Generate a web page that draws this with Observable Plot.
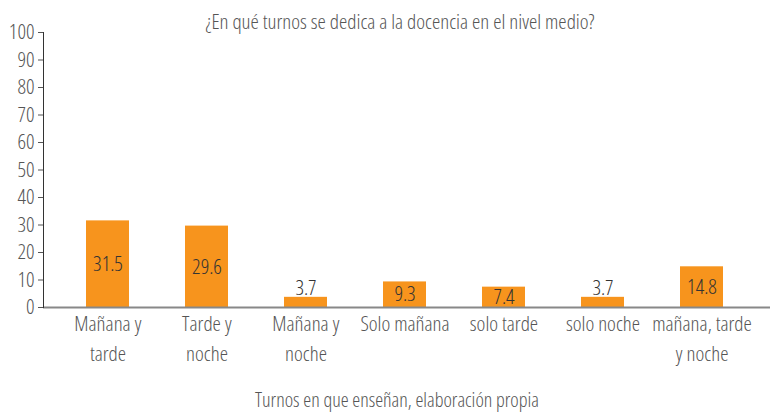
<!DOCTYPE html>
<html><head><meta charset="utf-8">
<script src="https://cdn.jsdelivr.net/npm/d3@7"></script>
<script src="https://cdn.jsdelivr.net/npm/@observablehq/plot@0.6"></script>
<style>
body{margin:0;background:#fff;overflow:hidden;}
#wrap{position:relative;width:774px;height:412px;font-family:"Open Sans",sans-serif;font-stretch:condensed;font-weight:300;color:#555;}
#wrap svg, #wrap text{font-stretch:condensed;font-weight:300;}
#title{position:absolute;top:7px;left:0;width:800px;text-align:center;font-size:21px;}
#caption{position:absolute;top:386px;left:0;width:794px;text-align:center;font-size:20px;}
#chart{position:absolute;top:0;left:0;}
</style></head>
<body>
<div id="wrap">
<div id="chart"></div>
<div id="title">¿En qué turnos se dedica a la docencia en el nivel medio?</div>
<div id="caption">Turnos en que enseñan, elaboración propia</div>
</div>
<script>
const categories = ["Mañana y\ntarde", "Tarde y\nnoche", "Mañana y\nnoche", "Solo mañana", "solo tarde", "solo noche", "mañana, tarde\ny noche"];
const values = [31.5, 29.6, 3.7, 9.3, 7.4, 3.7, 14.8];
const yTicks = [0, 10, 20, 30, 40, 50, 60, 70, 80, 90, 100];

const data = categories.map((c, i) => ({c, v: values[i]}));

const chart = Plot.plot({
  width: 774, height: 412,
  marginTop: 32, marginBottom: 105, marginLeft: 43, marginRight: 4,
  style: {fontFamily: "'Open Sans',sans-serif", fontSize: "21px", color: "#555", background: "#fff"},
  x: {domain: categories, range: [57, 752], paddingInner: 0.567, paddingOuter: 0.2835, label: null},
  y: {domain: [0, 100], label: null},
  marks: [
    Plot.barY(data, {x: "c", y: "v", fill: "#F7941D"}),
    Plot.ruleY([0], {stroke: "#888", strokeWidth: 2}),
    Plot.frame({anchor: "left", stroke: "#333"}),
    Plot.axisY({ticks: yTicks, tickSize: 5, tickPadding: 4, fontSize: 21, label: null}),
    Plot.axisX({tickSize: 0, tickPadding: 3, fontSize: 21, lineHeight: 1.4, label: null}),
    Plot.text(data.filter(d => d.v >= 5), {x: "c", y: d => d.v / 2, text: d => d.v.toFixed(1), fill: "#333", fontSize: 21}),
    Plot.text(data.filter(d => d.v < 5), {x: "c", y: "v", text: d => d.v.toFixed(1), fill: "#333", fontSize: 21, lineAnchor: "bottom", dy: -2})
  ]
});
document.getElementById("chart").appendChild(chart);
</script>
</body></html>
